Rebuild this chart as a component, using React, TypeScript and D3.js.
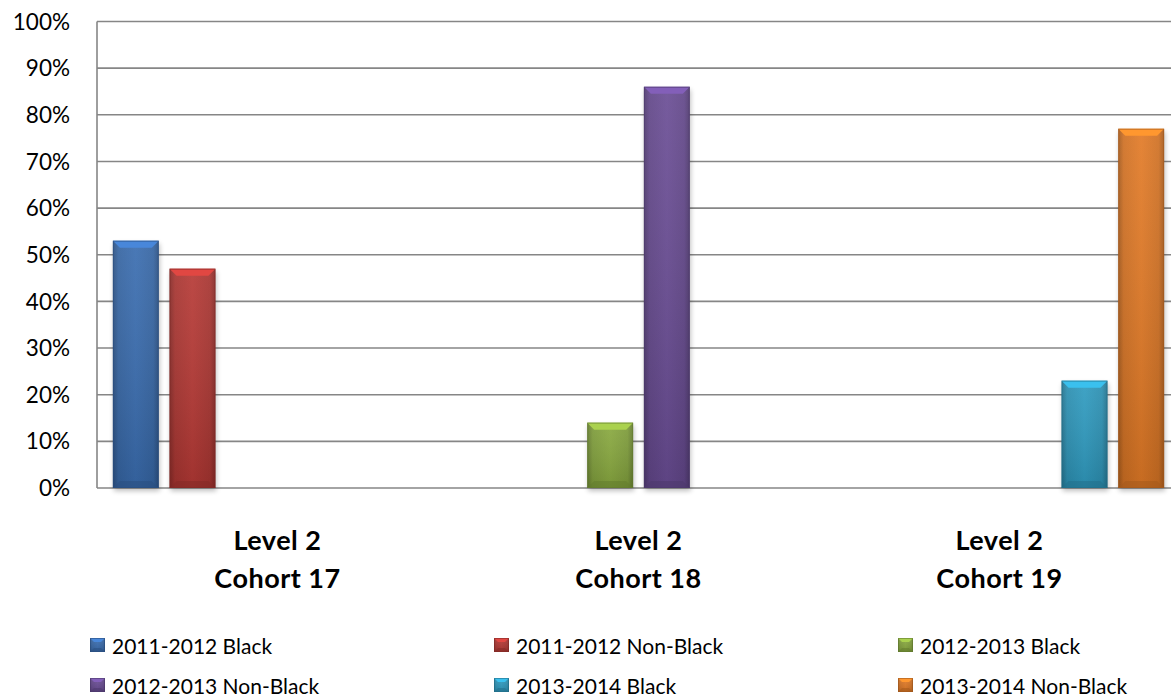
import React from "react";
import * as d3 from "d3";

const categories: string[][] = [
  ["Level 2", "Cohort 17"],
  ["Level 2", "Cohort 18"],
  ["Level 2", "Cohort 19"],
];
const seriesNames = [
  "2011-2012 Black",
  "2011-2012 Non-Black",
  "2012-2013 Black",
  "2012-2013 Non-Black",
  "2013-2014 Black",
  "2013-2014 Non-Black",
];
const seriesColors = ["#3a6db0", "#b63935", "#89a93f", "#6a4d95", "#2f9bc0", "#e27a26"];
const values: (number | null)[][] = [
  [0.53, null, null],
  [0.47, null, null],
  [null, 0.14, null],
  [null, 0.86, null],
  [null, null, 0.23],
  [null, null, 0.77],
];
const yTicks = [0, 0.1, 0.2, 0.3, 0.4, 0.5, 0.6, 0.7, 0.8, 0.9, 1.0];

const W = 1171;
const H = 698;
const FONT = "Lato, 'Open Sans', sans-serif";

function Bevel({ x, y, w, h, color, id, b = 7, shadow = true }: any) {
  const c = d3.color(color)!;
  const dark = c.darker(0.9).formatHex();
  const mid = c.darker(0.25).formatHex();
  const light = c.brighter(0.6).formatHex();
  const bb = Math.min(b, h / 2, w / 2);
  return (
    <g>
      <defs>
        <linearGradient id={`g${id}`} x1="0" x2="1" y1="0" y2="0">
          <stop offset="0" stopColor={dark} />
          <stop offset="0.12" stopColor={mid} />
          <stop offset="0.5" stopColor={color} />
          <stop offset="0.88" stopColor={mid} />
          <stop offset="1" stopColor={dark} />
        </linearGradient>
        <linearGradient id={`v${id}`} x1="0" x2="0" y1="0" y2="1">
          <stop offset="0" stopColor="#fff" stopOpacity={0.08} />
          <stop offset="1" stopColor="#000" stopOpacity={0.12} />
        </linearGradient>
      </defs>
      {shadow && (
        <rect x={x + 1} y={y + 3} width={w} height={h} fill="#000" opacity={0.25} filter="url(#shadow)" />
      )}
      <rect x={x} y={y} width={w} height={h} fill={`url(#g${id})`} />
      <rect x={x} y={y} width={w} height={h} fill={`url(#v${id})`} />
      <polygon
        points={`${x},${y} ${x + w},${y} ${x + w - bb},${y + bb} ${x + bb},${y + bb}`}
        fill={light}
      />
      <polygon
        points={`${x},${y + h} ${x + w},${y + h} ${x + w - bb},${y + h - bb} ${x + bb},${y + h - bb}`}
        fill={dark}
        opacity={0.55}
      />
      <rect x={x + 0.5} y={y + 0.5} width={w - 1} height={h - 1} fill="none" stroke={dark} strokeWidth={1} opacity={0.6} />
    </g>
  );
}

export default function App() {
  const left = 97;
  const top = 21.5;
  const bottom = 488;
  const right = 1180;

  const y = d3.scaleLinear().domain([0, 1]).range([bottom, top]);
  const x0 = d3
    .scaleBand<number>()
    .domain(categories.map((_, i) => i))
    .range([left, right])
    .padding(0);
  const x1 = d3
    .scaleBand<number>()
    .domain(seriesNames.map((_, i) => i))
    .range([0, x0.bandwidth()])
    .paddingInner(0.19)
    .paddingOuter(0.28);
  const fmt = d3.format(".0%");

  const legendCols = [90, 494, 898];
  const legendBaselines = [654, 694];

  return (
    <svg
      width={W}
      height={H}
      style={{ position: "absolute", left: 0, top: 0, background: "#fff" }}
      fontFamily={FONT}
    >
      <defs>
        <filter id="shadow" x="-20%" y="-20%" width="140%" height="140%">
          <feGaussianBlur stdDeviation="2.5" />
        </filter>
      </defs>
      <rect width={W} height={H} fill="#fff" />
      {/* gridlines */}
      {yTicks.map((t) => (
        <line key={t} x1={left} x2={right} y1={y(t)} y2={y(t)} stroke="#868686" strokeWidth={1.6} />
      ))}
      <line x1={left} x2={left} y1={top} y2={bottom} stroke="#868686" strokeWidth={1.6} />
      {/* y labels */}
      {yTicks.map((t) => (
        <text key={t} x={70} y={y(t)} dy="0.36em" textAnchor="end" fontSize={22.5} fill="#000">
          {fmt(t)}
        </text>
      ))}
      {/* bars */}
      {values.map((row, si) =>
        row.map((v, ci) => {
          if (v == null) return null;
          const bx = x0(ci)! + x1(si)!;
          const by = y(v);
          return (
            <Bevel key={`${si}-${ci}`} id={`${si}-${ci}`} x={bx} y={by} w={x1.bandwidth()} h={bottom - by} color={seriesColors[si]} />
          );
        })
      )}
      {/* category labels */}
      {categories.map((lines, ci) => (
        <text key={ci} textAnchor="middle" fontWeight="bold" fontSize={27} letterSpacing={0.5} fill="#000">
          {lines.map((l, li) => (
            <tspan key={li} x={x0(ci)! + x0.bandwidth() / 2} y={550 + li * 38}>
              {l}
            </tspan>
          ))}
        </text>
      ))}
      {/* legend */}
      {seriesNames.map((name, si) => {
        const col = si % 3;
        const row = Math.floor(si / 3);
        const lx = legendCols[col];
        const base = legendBaselines[row];
        return (
          <g key={si}>
            <Bevel id={`leg${si}`} x={lx} y={base - 16} w={15} h={14} color={seriesColors[si]} b={4} shadow={false} />
            <text x={lx + 22} y={base} fontSize={21} fill="#000">
              {name}
            </text>
          </g>
        );
      })}
    </svg>
  );
}
